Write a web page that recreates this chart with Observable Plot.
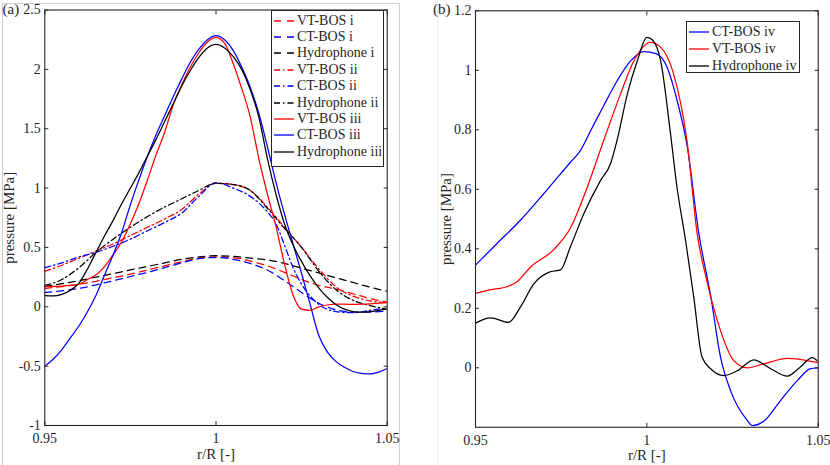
<!DOCTYPE html>
<html><head><meta charset="utf-8">
<script src="https://cdn.jsdelivr.net/npm/d3@7"></script>
<script src="https://cdn.jsdelivr.net/npm/@observablehq/plot@0.6"></script>
<style>
body{margin:0;background:#fff;}
#wrap{position:relative;width:830px;height:465px;overflow:hidden;font-family:"Liberation Serif","Times New Roman",serif;color:#262626;background:#fff;}
#wrap svg, #wrap svg text{font-family:"Liberation Serif","Times New Roman",serif !important;}
#wrap svg{font-size:14px !important;}
#wrap g[aria-label="x-axis label"], #wrap g[aria-label="y-axis label"]{font-size:15px;}
.panel{position:absolute;top:0;}
.legend{position:absolute;background:#fff;border:1px solid #262626;box-sizing:border-box;}
.legend .row{position:absolute;left:0;height:16px;display:flex;align-items:center;font-size:14px;white-space:nowrap;}
.legend .row svg{margin-left:2px;margin-right:3px;}
.tag{position:absolute;font-size:15px;line-height:16px;}
.gbox{position:absolute;border:1px solid #cfcfcf;}
.gline{position:absolute;background:#eeeeee;}
</style></head>
<body><div id="wrap"></div>
<script>
// ---------- Axis ticks ----------
const xTicks = [0.95, 1, 1.05];
const yTicksA = [-1, -0.5, 0, 0.5, 1, 1.5, 2, 2.5];
const yTicksB = [0, 0.2, 0.4, 0.6, 0.8, 1, 1.2];

// ---------- Panel (a) data ----------
const gridCoarse = [0.95,0.955,0.96,0.965,0.97,0.975,0.98,0.985,0.99,0.995,1.0,1.005,1.01,1.015,1.02,1.025,1.03,1.035,1.04,1.045,1.05];

const vtI_x = gridCoarse;
const vtI_y = [0.155,0.17,0.19,0.215,0.245,0.275,0.31,0.345,0.38,0.41,0.42,0.415,0.385,0.345,0.29,0.23,0.18,0.15,0.11,0.07,0.04];
const ctI_x = gridCoarse;
const ctI_y = [0.12,0.135,0.155,0.185,0.22,0.255,0.29,0.33,0.37,0.405,0.415,0.40,0.365,0.31,0.22,0.12,0.03,-0.025,-0.045,-0.045,-0.035];
const hyI_x = gridCoarse;
const hyI_y = [0.17,0.195,0.22,0.25,0.28,0.31,0.34,0.37,0.40,0.42,0.43,0.425,0.41,0.395,0.365,0.325,0.285,0.245,0.205,0.165,0.13];

const vtII_x = gridCoarse;
const vtII_y = [0.30,0.35,0.41,0.47,0.53,0.60,0.67,0.74,0.82,0.95,1.04,1.03,0.98,0.84,0.67,0.50,0.32,0.17,0.09,0.05,0.035];
const ctII_x = [0.95,0.955,0.96,0.965,0.97,0.975,0.98,0.985,0.99,0.995,1.0,1.005,1.01,1.015,1.0175,1.02,1.0225,1.025,1.0275,1.03,1.035,1.04,1.045,1.05];
const ctII_y = [0.33,0.37,0.42,0.46,0.51,0.57,0.64,0.71,0.79,0.93,1.045,1.0,0.93,0.80,0.70,0.52,0.33,0.19,0.09,0.02,-0.04,-0.05,-0.03,-0.01];
const hyII_x = gridCoarse;
const hyII_y = [0.18,0.23,0.33,0.46,0.57,0.67,0.76,0.84,0.91,0.98,1.04,1.03,0.98,0.83,0.66,0.50,0.30,0.145,0.055,0.01,-0.02];

const gridFine = [0.95,0.9525,0.955,0.9575,0.96,0.9625,0.965,0.9675,0.97,0.9725,0.975,0.9775,0.98,0.9825,0.985,0.9875,0.99,0.9925,0.995,0.9975,1.0,1.0025,1.005,1.0075,1.01,1.0125,1.015,1.0175,1.02,1.0225,1.025,1.0275,1.03,1.0325,1.035,1.0375,1.04,1.0425,1.045,1.0475,1.05];

const vtIII_x = gridFine;
const vtIII_y = [0.17,0.172,0.175,0.18,0.19,0.23,0.27,0.34,0.44,0.55,0.70,0.87,1.07,1.28,1.47,1.70,1.87,2.02,2.14,2.23,2.27,2.22,2.05,1.84,1.6,1.25,0.95,0.68,0.36,0.1,-0.02,-0.03,0.0,0.015,0.022,0.022,0.02,0.022,0.025,0.03,0.035];
const ctIII_x = gridFine;
const ctIII_y = [-0.5,-0.44,-0.36,-0.26,-0.16,-0.04,0.1,0.27,0.44,0.63,0.86,1.07,1.27,1.45,1.61,1.77,1.92,2.06,2.17,2.25,2.285,2.25,2.16,2.02,1.85,1.63,1.35,1.05,0.78,0.53,0.28,0.02,-0.24,-0.38,-0.46,-0.51,-0.545,-0.56,-0.565,-0.55,-0.52];
const hyIII_x = gridFine;
const hyIII_y = [0.095,0.092,0.105,0.14,0.20,0.32,0.46,0.60,0.73,0.87,1.0,1.13,1.27,1.41,1.56,1.71,1.86,1.99,2.1,2.18,2.21,2.18,2.11,2.0,1.83,1.6,1.25,0.95,0.70,0.52,0.38,0.26,0.16,0.08,0.02,-0.02,-0.04,-0.045,-0.04,-0.03,-0.02];

// ---------- Panel (b) data ----------
const ctIV_x = [0.95,0.9563,0.9631,0.9699,0.9777,0.9806,0.9836,0.9874,0.9913,0.9952,0.9991,1.0029,1.0059,1.0088,1.0117,1.0152,1.0187,1.0215,1.0244,1.0293,1.0307,1.0341,1.039,1.0439,1.0478,1.05];
const ctIV_y = [0.345,0.418,0.496,0.585,0.691,0.73,0.797,0.881,0.964,1.031,1.063,1.055,1.01,0.90,0.75,0.45,0.237,0.036,-0.076,-0.177,-0.194,-0.18,-0.11,-0.043,-0.003,0.0];
const vtIV_x = [0.95,0.9535,0.9602,0.9622,0.966,0.9729,0.9777,0.9826,0.9874,0.9923,0.9962,1.001,1.004,1.0078,1.0117,1.0147,1.0175,1.0215,1.0253,1.0293,1.0341,1.041,1.05];
const vtIV_y = [0.25,0.26,0.277,0.29,0.338,0.398,0.47,0.607,0.764,0.92,1.031,1.094,1.078,0.988,0.764,0.45,0.293,0.125,0.025,0.0,0.013,0.032,0.017];
const hyIV_x = [0.95,0.9544,0.9597,0.9631,0.967,0.9719,0.9748,0.9777,0.9816,0.9865,0.9894,0.9913,0.9943,0.9972,1.0,1.0018,1.004,1.0069,1.0088,1.0113,1.0137,1.0161,1.0186,1.0225,1.0264,1.0312,1.0361,1.041,1.0448,1.0483,1.05];
const hyIV_y = [0.15,0.168,0.153,0.204,0.282,0.323,0.329,0.407,0.518,0.63,0.686,0.764,0.92,1.031,1.111,1.10,1.033,0.787,0.607,0.428,0.237,0.036,-0.003,-0.026,-0.01,0.027,-0.003,-0.028,0.003,0.034,0.02];

const DASH = "7,5";
const DASHDOT = "6,3,1.5,3";

const seriesA = [
  {name: "VT-BOS i", color: "#ff0000", dash: DASH, x: vtI_x, y: vtI_y},
  {name: "CT-BOS i", color: "#0000ff", dash: DASH, x: ctI_x, y: ctI_y},
  {name: "Hydrophone i", color: "#000000", dash: DASH, x: hyI_x, y: hyI_y},
  {name: "VT-BOS ii", color: "#ff0000", dash: DASHDOT, x: vtII_x, y: vtII_y},
  {name: "CT-BOS ii", color: "#0000ff", dash: DASHDOT, x: ctII_x, y: ctII_y},
  {name: "Hydrophone ii", color: "#000000", dash: DASHDOT, x: hyII_x, y: hyII_y},
  {name: "VT-BOS iii", color: "#ff0000", dash: null, x: vtIII_x, y: vtIII_y},
  {name: "CT-BOS iii", color: "#0000ff", dash: null, x: ctIII_x, y: ctIII_y},
  {name: "Hydrophone iii", color: "#000000", dash: null, x: hyIII_x, y: hyIII_y}
];
const seriesB = [
  {name: "CT-BOS iv", color: "#0000ff", dash: null, x: ctIV_x, y: ctIV_y},
  {name: "VT-BOS iv", color: "#ff0000", dash: null, x: vtIV_x, y: vtIV_y},
  {name: "Hydrophone iv", color: "#000000", dash: null, x: hyIV_x, y: hyIV_y}
];

const FONT = '"Liberation Serif","Times New Roman",serif';
const INK = "#262626";

function makePanel(cfg) {
  const marks = [];
  for (const s of cfg.series) {
    const pts = s.x.map((x, i) => ({x, y: s.y[i]}));
    marks.push(Plot.line(pts, {x: "x", y: "y", stroke: s.color, strokeWidth: 1.25,
      strokeDasharray: s.dash || undefined, curve: "monotone-x", clip: true}));
  }
  const fmt = d => String(d);
  const blank = () => "";
  marks.push(
    Plot.axisX({ticks: xTicks, tickFormat: fmt, tickSize: 0, tickPadding: 8,
      label: "r/R [-]", labelAnchor: "center", labelOffset: 33, labelArrow: "none", fill: INK}),
    Plot.axisY({ticks: cfg.yTicks, tickFormat: fmt, tickSize: 0, tickPadding: 4,
      label: "pressure [MPa]", labelAnchor: "center", labelOffset: cfg.ylabOffset, labelArrow: "none", fill: INK}),
    Plot.axisX({ticks: xTicks, tickSize: 4, dy: -4, tickFormat: blank, label: null, stroke: INK}),
    Plot.axisX({anchor: "top", ticks: xTicks, tickSize: 4, dy: 4, tickFormat: blank, label: null, stroke: INK}),
    Plot.axisY({ticks: cfg.yTicks, tickSize: 4, dx: 4, tickFormat: blank, label: null, stroke: INK}),
    Plot.axisY({anchor: "right", ticks: cfg.yTicks, tickSize: 4, dx: -4, tickFormat: blank, label: null, stroke: INK}),
    Plot.frame({stroke: INK, strokeWidth: 1.1})
  );
  return Plot.plot({
    width: cfg.width, height: cfg.height,
    marginLeft: cfg.ml, marginRight: cfg.mr, marginTop: cfg.mt, marginBottom: cfg.mb,
    x: {domain: [0.95, 1.05]},
    y: {domain: cfg.yDomain},
    style: {fontFamily: FONT, fontSize: "14px", color: INK, background: "transparent", overflow: "visible"},
    marks
  });
}

function makeLegend(series, box) {
  const lg = document.createElement("div");
  lg.className = "legend";
  Object.assign(lg.style, {left: box.left + "px", top: box.top + "px", width: box.width + "px", height: box.height + "px"});
  series.forEach((s, i) => {
    const row = document.createElement("div");
    row.className = "row";
    row.style.top = (box.first + i * box.step - 8) + "px";
    const sw = d3.create("svg").attr("width", 20).attr("height", 16);
    sw.append("line").attr("x1", 0).attr("x2", 20).attr("y1", 8).attr("y2", 8)
      .attr("stroke", s.color).attr("stroke-width", 1.3)
      .attr("stroke-dasharray", s.dash ? (s.dash === DASH ? "7,6" : "6,3,1.5,3") : null);
    row.appendChild(sw.node());
    const t = document.createElement("span");
    t.textContent = s.name;
    row.appendChild(t);
    lg.appendChild(row);
  });
  return lg;
}

const wrap = document.getElementById("wrap");

const gbox = document.createElement("div");
gbox.className = "gbox";
Object.assign(gbox.style, {left: "2px", top: "3px", width: "396px", height: "480px"});
wrap.appendChild(gbox);
const gline = document.createElement("div");
gline.className = "gline";
Object.assign(gline.style, {left: "437px", top: "0px", width: "1px", height: "465px"});
wrap.appendChild(gline);

const pa = document.createElement("div");
pa.className = "panel"; pa.style.left = "0px";
pa.appendChild(makePanel({series: seriesA, yTicks: yTicksA, yDomain: [-1, 2.5], width: 400, height: 465,
  ml: 44.3, mr: 13.3, mt: 9.5, mb: 40, ylabOffset: 41}));
wrap.appendChild(pa);

const pb = document.createElement("div");
pb.className = "panel"; pb.style.left = "430px";
pb.appendChild(makePanel({series: seriesB, yTicks: yTicksB, yDomain: [-0.2, 1.2], width: 400, height: 465,
  ml: 45, mr: 12.3, mt: 10.3, mb: 38.2, ylabOffset: 35}));
wrap.appendChild(pb);

wrap.appendChild(makeLegend(seriesA, {left: 271, top: 10, width: 113, height: 157, first: 9.5, step: 16.4}));
wrap.appendChild(makeLegend(seriesB, {left: 686, top: 21, width: 114, height: 52, first: 9.5, step: 17}));

for (const [txt, left] of [["(a)", 2.5], ["(b)", 433]]) {
  const t = document.createElement("div");
  t.className = "tag"; t.textContent = txt;
  Object.assign(t.style, {left: left + "px", top: "1px"});
  wrap.appendChild(t);
}
</script>
</body></html>
